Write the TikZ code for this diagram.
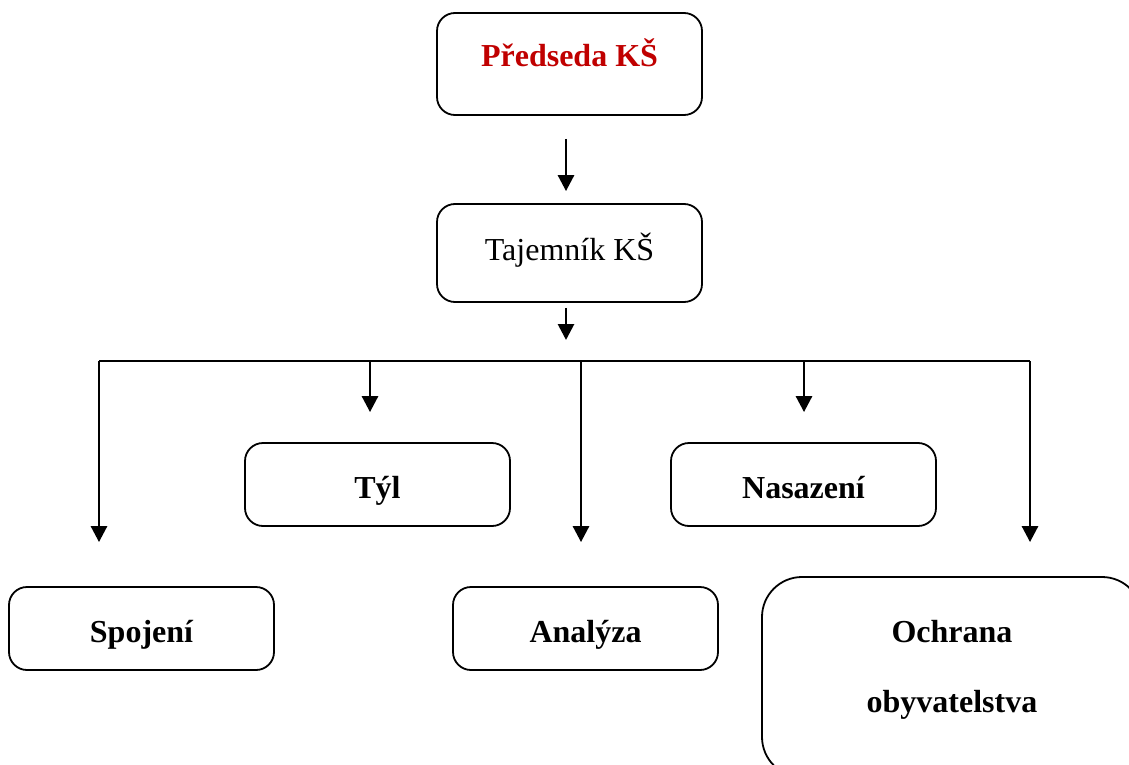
\documentclass[tikz,border=0pt]{standalone}
\usepackage{fontspec}
\setmainfont{Liberation Serif}
\usetikzlibrary{arrows.meta}
\definecolor{headred}{HTML}{C00000}
\begin{document}
\begin{tikzpicture}[x=1pt,y=-1pt,
  box/.style={draw, line width=1.8pt, rounded corners=18pt, minimum width=265pt,
    minimum height=83pt, inner sep=0pt, align=center, text height=27pt, text depth=0pt,
    font=\fontsize{32}{38}\selectfont\bfseries},
  conn/.style={line width=2.8pt, -{Triangle[width=16pt,length=16pt]}},
  busline/.style={line width=2.6pt}]
\useasboundingbox (0,0) rectangle (1129,765);
\clip (0,0) rectangle (1129,765);
% boxes
\node[box, minimum height=102pt, text=headred, text height=6pt] (pred) at (569.5,64) {Předseda KŠ};
\node[box, minimum height=98pt, text height=14pt, font=\fontsize{32}{38}\selectfont] (taj) at (569.5,253) {Tajemník KŠ};
\node[box] (tyl) at (377.5,484.5) {Týl};
\node[box] (nas) at (803.5,484.5) {Nasazení};
\node[box] (spoj) at (141.5,628.5) {Spojení};
\node[box] (anal) at (585.5,628.5) {Analýza};
\node[box, minimum width=380pt, minimum height=200pt, rounded corners=40pt,
  text height=70pt, text depth=0pt,
  font=\fontsize{32}{70}\selectfont\bfseries] (ochr) at (952,677) {Ochrana\\obyvatelstva};
% bus coordinates
\coordinate (bus) at (566,361);
\coordinate (bL) at (99,361);
\coordinate (b2) at (370,361);
\coordinate (b3) at (581,361);
\coordinate (b4) at (804,361);
\coordinate (bR) at (1030,361);
% connectors
\draw[conn, shorten <=23pt, shorten >=12pt] (pred.south -| bus) -- (taj.north -| bus);
\draw[conn, shorten <=5pt, shorten >=21pt] (taj.south -| bus) -- (bus);
\draw[busline] (bL) -- (bR);
\draw[conn, shorten >=44pt] (bL) -- (bL |- spoj.north);
\draw[conn, shorten >=30pt] (b2) -- (b2 |- tyl.north);
\draw[conn, shorten >=44pt] (b3) -- (b3 |- anal.north);
\draw[conn, shorten >=30pt] (b4) -- (b4 |- nas.north);
\draw[conn, shorten >=34pt] (bR) -- (bR |- ochr.north);
\end{tikzpicture}
\end{document}
